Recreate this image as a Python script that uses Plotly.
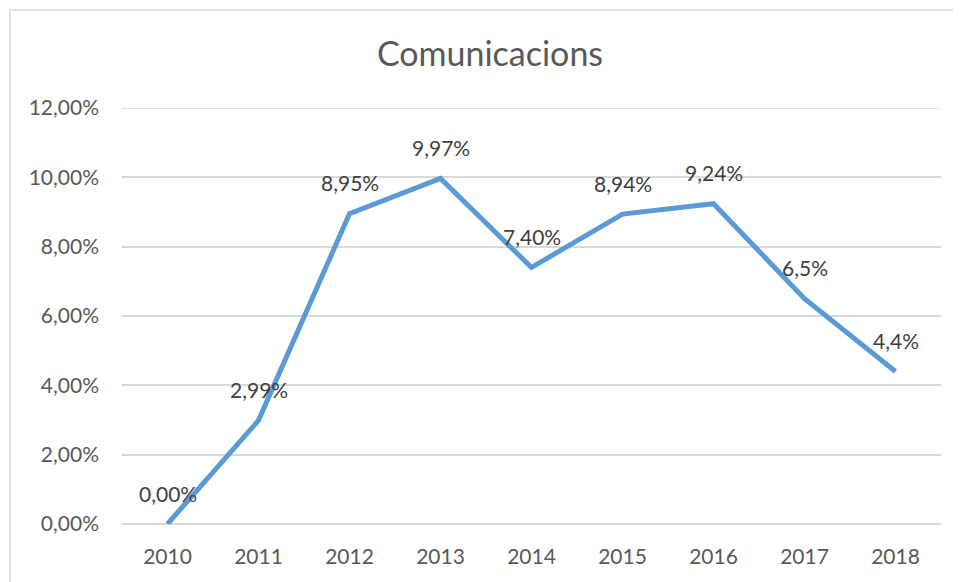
import plotly.graph_objects as go

# Data
years = ["2010", "2011", "2012", "2013", "2014", "2015", "2016", "2017", "2018"]
values = [0.0, 0.0299, 0.0895, 0.0997, 0.0740, 0.0894, 0.0924, 0.065, 0.044]
labels = ["0,00%", "2,99%", "8,95%", "9,97%", "7,40%", "8,94%", "9,24%", "6,5%", "4,4%"]
y_ticks = [0, 0.02, 0.04, 0.06, 0.08, 0.10, 0.12]

FONT = "Lato"
TEXT_COLOR = "#595959"
GRID = "#D9D9D9"
OFF = 8  # page body margin in the browser

fig = go.Figure(go.Scatter(
    x=years,
    y=values,
    mode="lines",
    line=dict(color="#5B9BD5", width=5),
    cliponaxis=False,
    hoverinfo="skip",
))

# Data labels above each point (category axis -> use the serial index)
for i, (v, lab) in enumerate(zip(values, labels)):
    fig.add_annotation(
        x=i, y=v, text=lab,
        showarrow=False,
        yanchor="middle",
        yshift=31,
        font=dict(family=FONT, size=21, color="#404040"),
    )

# Top gridline (plotly drops the grid line sitting on the plot edge)
fig.add_shape(
    type="line", xref="paper", yref="y",
    x0=0, x1=1, y0=y_ticks[-1], y1=y_ticks[-1],
    line=dict(color=GRID, width=1.5),
    layer="below",
)

# Light chart-area border (cropped on right and bottom like the source)
fig.add_shape(
    type="rect", xref="paper", yref="paper",
    x0=-0.1368, x1=1.2, y0=-0.3, y1=1.2356,
    line=dict(color=GRID, width=1.5),
    fillcolor="rgba(0,0,0,0)",
    layer="below",
)

fig.update_layout(
    width=961,
    height=582,
    margin=dict(l=122 - OFF, r=20 + OFF, t=108 - OFF, b=58 + OFF),
    paper_bgcolor="white",
    plot_bgcolor="white",
    separators=",.",
    showlegend=False,
    title=dict(
        text="Comunicacions",
        x=(490 - OFF) / 961,
        xanchor="center",
        xref="container",
        y=1 - (54 - OFF) / 582,
        yanchor="middle",
        yref="container",
        font=dict(family=FONT, size=34, color=TEXT_COLOR),
    ),
    xaxis=dict(
        type="category",
        range=[-0.5, 8.5],
        showgrid=False,
        showline=False,
        zeroline=False,
        ticks="",
        ticklabelstandoff=18,
        tickfont=dict(family=FONT, size=21, color=TEXT_COLOR),
    ),
    yaxis=dict(
        range=[0, 0.12],
        tickvals=y_ticks,
        tickformat=".2%",
        showgrid=True,
        gridcolor=GRID,
        gridwidth=1.5,
        zeroline=True,
        zerolinecolor=GRID,
        zerolinewidth=1.5,
        showline=False,
        ticks="",
        ticklabelstandoff=22,
        tickfont=dict(family=FONT, size=21, color=TEXT_COLOR),
    ),
)

fig.write_html("out.html")
